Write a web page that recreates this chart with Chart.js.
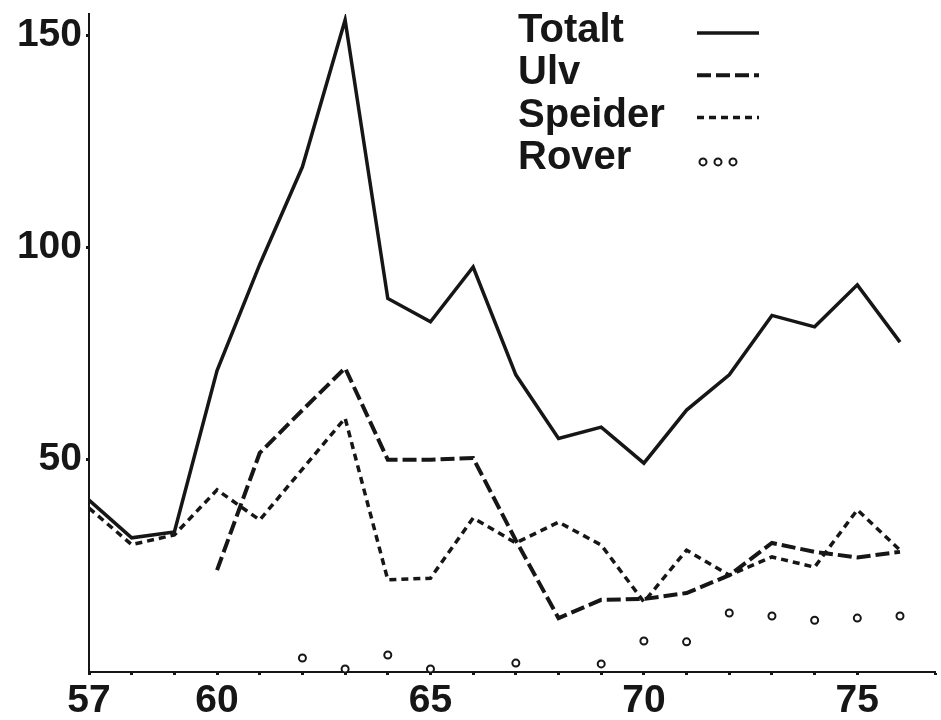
<!DOCTYPE html>
<html>
<head>
<meta charset="utf-8">
<script src="https://cdn.jsdelivr.net/npm/chart.js@4/dist/chart.umd.min.js"></script>
<style>
  html, body { margin: 0; padding: 0; background: #fff; }
</style>
</head>
<body>
<canvas id="myChart" width="941" height="720"></canvas>
<script>
// years on the x axis (19xx)
const years = [57, 58, 59, 60, 61, 62, 63, 64, 65, 66, 67, 68, 69, 70, 71, 72, 73, 74, 75, 76];
const xTickLabels = [57, 60, 65, 70, 75];
const yTickLabels = [50, 100, 150];

const totalt  = [40.5, 31.6, 33, 71, 96, 119, 153.6, 88, 82.5, 95.4, 70, 55, 57.7, 49.2, 61.7, 70, 84, 81.3, 91.2, 77.7];
const ulv     = [null, null, null, 24, 51.6, 61.7, 71.6, 50, 50, 50.4, 31, 12.7, 17, 17.2, 18.6, 22.8, 30.4, 28.3, 27, 28.3];
const speider = [38.6, 30, 32.3, 42.9, 35.8, 47.8, 59.8, 21.7, 22.1, 36.3, 30.4, 35.3, 29.9, 16.5, 28.7, 22.8, 27.1, 24.7, 38.2, 28.7];
const rover   = [null, null, null, null, null, 3.3, 0.7, 4, 0.7, null, 2.1, null, 1.9, 7.3, 7.1, 13.9, 13.2, 12.2, 12.7, 13.2];

const ink = "#161616";
const fontFamily = '"Liberation Sans", Arial, Helvetica, sans-serif';

const toPoints = (vals) => years.map((yr, i) => ({ x: yr, y: vals[i] }));

// legend drawn in the upper right, text first, sample after
const cornerLegend = {
  id: "cornerLegend",
  afterDraw(chart) {
    const ctx = chart.ctx;
    ctx.save();
    ctx.font = "bold 40px " + fontFamily;
    ctx.fillStyle = ink;
    ctx.strokeStyle = ink;
    ctx.textBaseline = "alphabetic";
    chart.data.datasets.forEach((ds, i) => {
      const base = 42 + i * 42.3;
      ctx.fillText(ds.label, 518, base);
      const ly = base - 9;
      if (ds.showLine === false) {
        ctx.lineWidth = 2;
        ctx.setLineDash([]);
        [703, 718, 733].forEach((cx) => {
          ctx.beginPath();
          ctx.arc(cx, ly + 2, 3.5, 0, Math.PI * 2);
          ctx.stroke();
        });
      } else {
        ctx.lineWidth = ds.borderWidth;
        ctx.setLineDash(ds.borderDash || []);
        ctx.beginPath();
        ctx.moveTo(697, ly);
        ctx.lineTo(759, ly);
        ctx.stroke();
      }
    });
    ctx.restore();
  },
};

const makeGraph = () => {
  const chart_ctx = document.getElementById("myChart");
  const data = {
    datasets: [
      {
        label: "Totalt",
        data: toPoints(totalt),
        borderColor: ink,
        borderWidth: 3.5,
        pointRadius: 0,
        tension: 0,
      },
      {
        label: "Ulv",
        data: toPoints(ulv),
        borderColor: ink,
        borderWidth: 4,
        borderDash: [14, 5],
        pointRadius: 0,
        tension: 0,
        spanGaps: false,
      },
      {
        label: "Speider",
        data: toPoints(speider),
        borderColor: ink,
        borderWidth: 3.5,
        borderDash: [7, 5],
        pointRadius: 0,
        tension: 0,
      },
      {
        label: "Rover",
        data: toPoints(rover),
        showLine: false,
        borderColor: ink,
        backgroundColor: "#fff",
        borderWidth: 2,
        pointRadius: 3.5,
        pointStyle: "circle",
      },
    ],
  };
  const config = {
    type: "line",
    data,
    plugins: [cornerLegend],
    options: {
      responsive: false,
      animation: false,
      layout: { padding: { top: 14, right: 0, left: 0, bottom: 0 } },
      plugins: {
        legend: { display: false },
        tooltip: { enabled: false },
      },
      scales: {
        x: {
          type: "linear",
          min: 57,
          max: 76.82,
          border: { color: ink, width: 2 },
          grid: { drawOnChartArea: false, color: ink, tickLength: 3, tickWidth: 3 },
          ticks: {
            stepSize: 1,
            autoSkip: false,
            maxRotation: 0,
            padding: 3,
            color: ink,
            font: { family: fontFamily, size: 39, weight: "bold" },
            callback: (v) => (xTickLabels.includes(v) ? String(v) : ""),
          },
          afterFit: (s) => {
            s.height = 48;
            s.paddingLeft = 0;
            s.paddingRight = 0;
          },
        },
        y: {
          min: 0,
          max: 155,
          border: { color: ink, width: 2 },
          grid: { drawOnChartArea: false, color: ink, tickLength: 3, tickWidth: 3 },
          afterBuildTicks: (s) => { s.ticks = yTickLabels.map((v) => ({ value: v })); },
          ticks: {
            padding: 4,
            color: ink,
            font: { family: fontFamily, size: 39, weight: "bold" },
          },
          afterFit: (s) => {
            s.width = 89;
            s.paddingTop = 0;
            s.paddingBottom = 0;
          },
        },
      },
    },
  };
  return new Chart(chart_ctx, config);
};

makeGraph();
</script>
</body>
</html>
